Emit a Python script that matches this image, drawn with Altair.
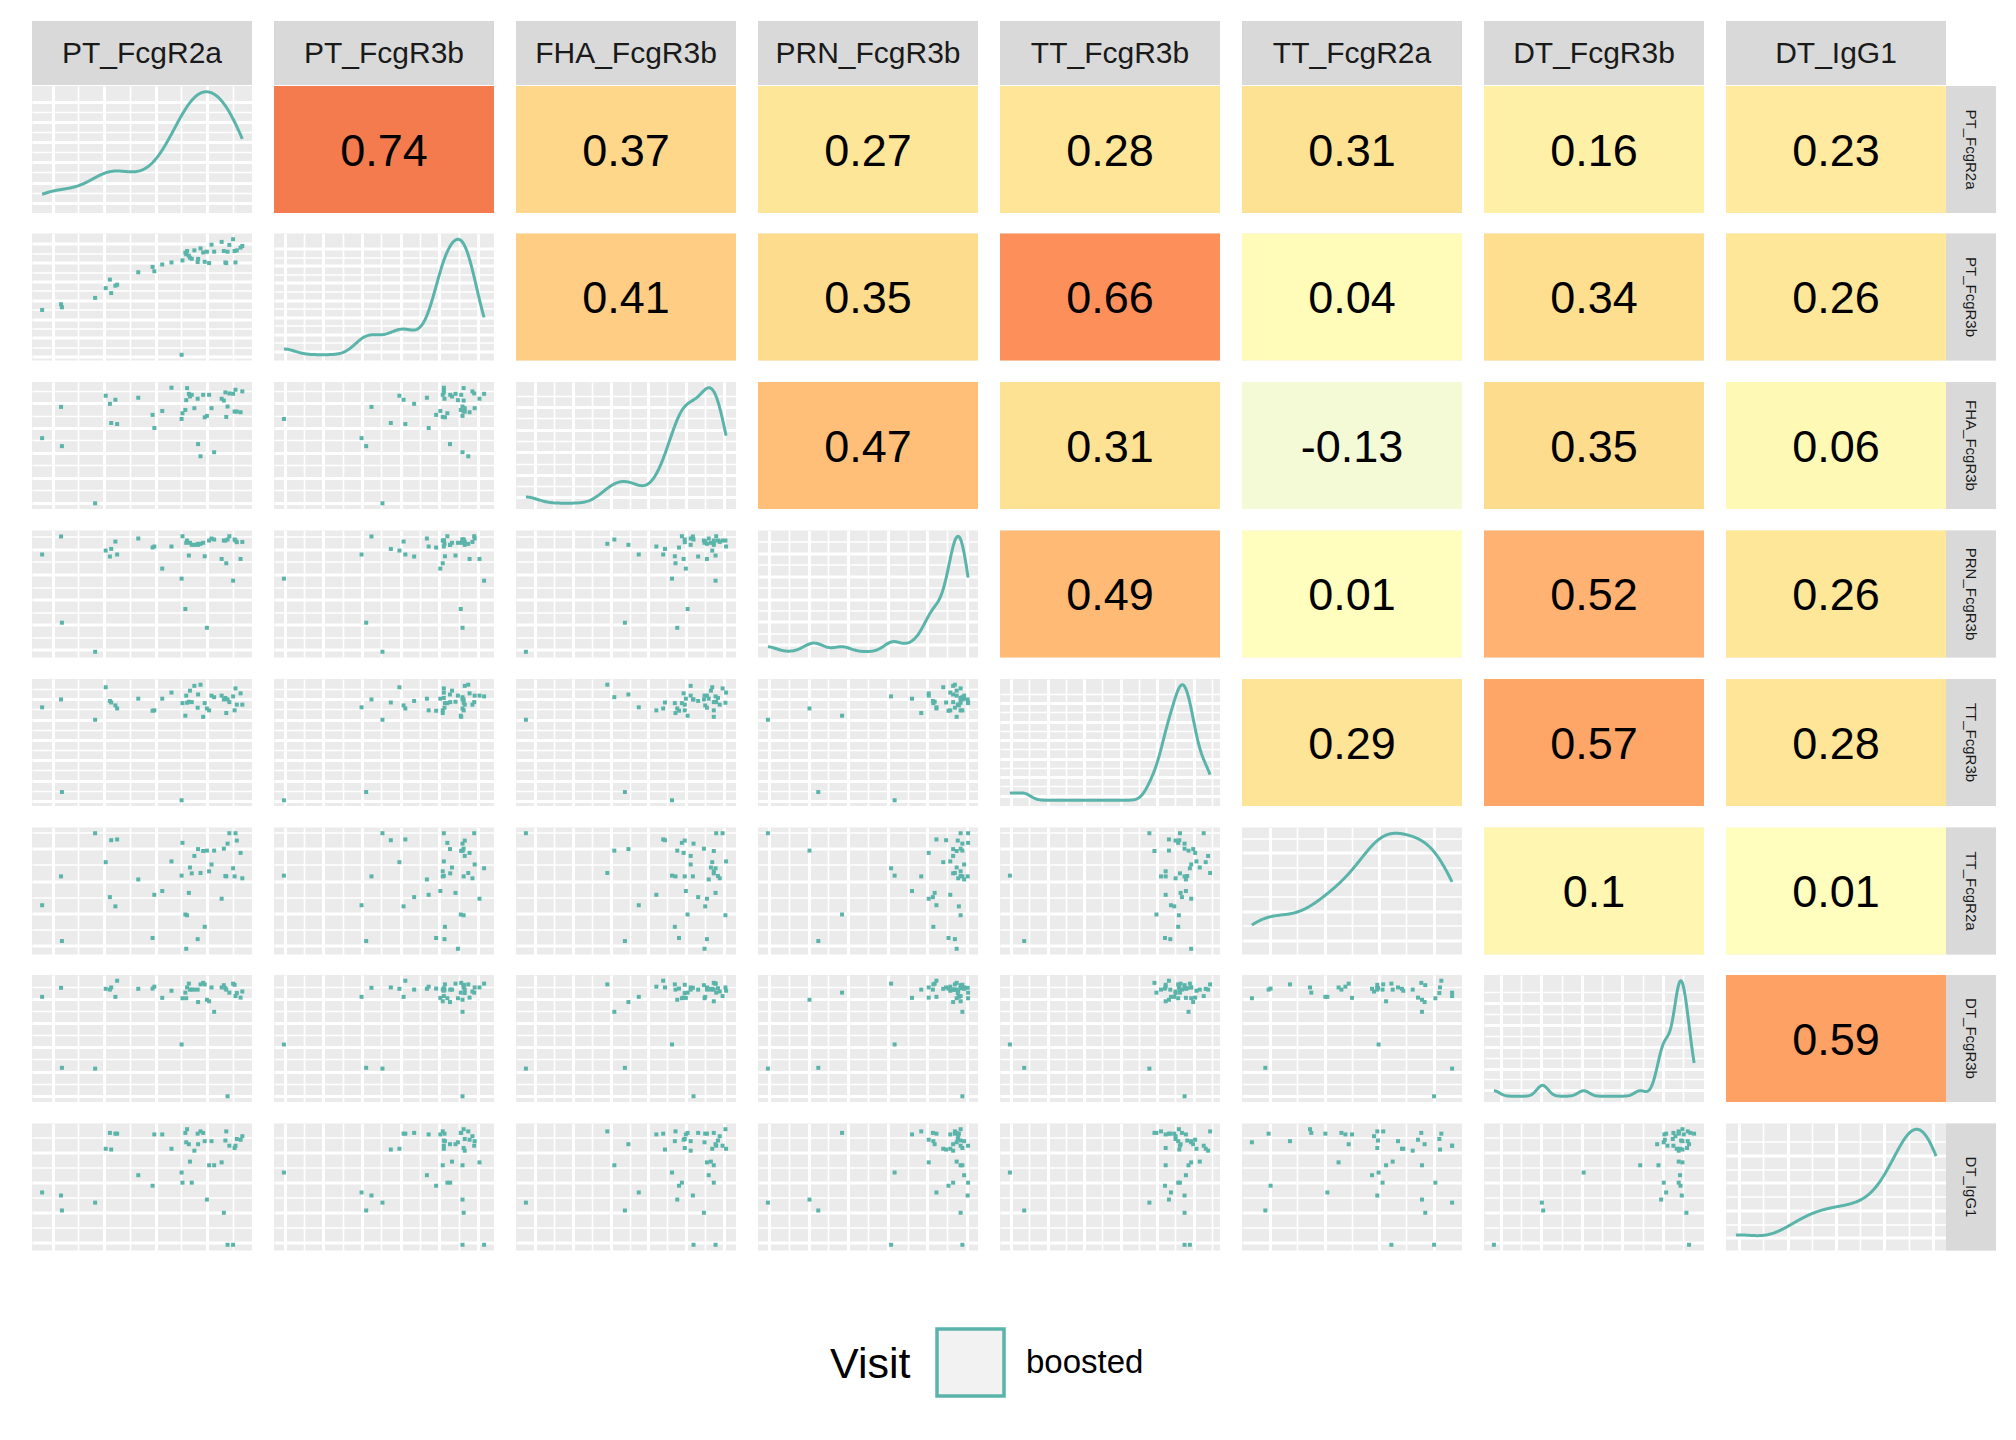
import json
import altair as alt
import numpy as np
import pandas as pd

VARS = ["PT_FcgR2a", "PT_FcgR3b", "FHA_FcgR3b", "PRN_FcgR3b",
        "TT_FcgR3b", "TT_FcgR2a", "DT_FcgR3b", "DT_IgG1"]

# values of each subject (percent of each panel's range)
PT_FcgR2a = [4.6, 13.2, 13.6, 28.7, 33.5, 35.4, 36.0, 37.9, 38.7, 48.3,
             54.8, 55.6, 59.2, 63.4, 68.0, 68.4, 69.7, 70.1, 70.5, 71.3,
             71.8, 72.6, 73.8, 75.3, 75.5, 76.6, 77.8, 78.5, 79.5, 80.5,
             81.6, 82.8, 86.2, 87.2, 87.9, 88.3, 88.9, 89.7, 91.4, 92.1,
             92.5, 93.1, 94.8, 95.6]
PT_FcgR3b = [39.8, 44.3, 41.9, 49.3, 57.0, 63.7, 53.1, 58.9, 59.7, 69.5,
             73.7, 70.3, 75.6, 77.2, 4.5, 78.8, 84.9, 83.6, 86.2, 82.5,
             80.9, 80.1, 86.7, 77.5, 80.0, 88.3, 85.1, 77.7, 85.7, 76.7,
             91.2, 85.7, 93.4, 86.2, 77.2, 76.7, 85.7, 91.0, 95.5, 86.2,
             77.2, 86.7, 88.9, 90.2]
FHA_FcgR3b = [55.8, 80.4, 49.5, 4.5, 89.2, 82.8, 67.7, 86.0, 66.9, 87.6,
              74.1, 63.8, 77.2, 95.5, 70.9, 75.4, 78.0, 85.7, 95.2, 90.7,
              88.6, 89.9, 79.4, 86.8, 51.1, 41.5, 89.9, 72.2, 73.3, 89.9,
              79.4, 44.7, 86.8, 85.4, 91.8, 72.5, 80.7, 91.0, 90.7, 76.7,
              93.9, 76.7, 76.2, 92.6]
PRN_FcgR3b = [81.1, 95.3, 27.4, 4.5, 84.2, 79.5, 85.5, 91.3, 81.1, 93.7,
              86.6, 87.4, 70.0, 87.4, 62.1, 95.5, 38.2, 90.3, 92.1, 80.3,
              90.3, 88.7, 88.7, 89.5, 88.7, 89.5, 90.3, 79.7, 23.4, 92.1,
              93.7, 92.9, 77.6, 92.1, 92.1, 74.2, 92.9, 95.5, 60.5, 92.9,
              92.1, 90.8, 77.6, 91.0]
TT_FcgR3b = [77.7, 83.9, 11.0, 67.9, 93.5, 82.7, 81.5, 79.2, 76.8, 84.5,
             75.0, 75.3, 84.5, 89.3, 4.5, 81.0, 71.1, 86.9, 81.3, 82.1,
             90.8, 81.8, 94.6, 77.4, 87.8, 95.5, 70.2, 81.0, 76.8, 75.3,
             86.9, 85.7, 86.9, 83.9, 85.1, 73.2, 83.9, 81.8, 86.3, 75.3,
             92.6, 79.8, 88.7, 79.8]
TT_FcgR2a = [38.8, 61.5, 10.6, 95.5, 72.7, 45.2, 90.0, 37.9, 90.6, 59.1,
             13.0, 47.0, 50.0, 73.3, 62.1, 87.9, 31.5, 4.5, 30.9, 48.5,
             68.5, 63.9, 77.6, 12.1, 83.0, 64.2, 81.5, 21.8, 81.8, 65.5,
             70.9, 81.8, 43.9, 83.3, 61.8, 61.5, 87.3, 95.5, 67.9, 61.5,
             95.5, 89.7, 80.0, 60.0]
DT_FcgR3b = [82.8, 89.9, 26.9, 26.3, 89.1, 88.5, 90.2, 82.8, 95.5, 89.1,
             89.3, 90.8, 82.0, 87.6, 45.3, 81.7, 86.1, 81.7, 90.2, 93.2,
             88.5, 88.5, 88.5, 88.5, 78.7, 92.6, 93.8, 92.6, 80.5, 79.3,
             90.2, 71.0, 90.2, 92.0, 89.6, 88.5, 4.5, 86.1, 93.2, 92.3,
             83.4, 85.8, 82.2, 87.0]
DT_IgG1 = [45.7, 43.3, 31.5, 37.7, 80.1, 92.6, 79.5, 92.0, 92.0, 59.3,
           51.0, 91.4, 91.4, 80.1, 61.4, 53.4, 92.6, 85.2, 95.5, 83.7,
           70.0, 53.4, 78.6, 92.0, 83.7, 93.8, 92.6, 86.1, 40.1, 67.1,
           86.1, 67.1, 69.4, 29.7, 86.6, 93.8, 4.5, 82.5, 4.5, 80.7,
           82.5, 87.8, 87.2, 90.0]

# correlations shown in the upper triangle, row by row
CORR_ROWS = [
    [0.74, 0.37, 0.27, 0.28, 0.31, 0.16, 0.23],
    [0.41, 0.35, 0.66, 0.04, 0.34, 0.26],
    [0.47, 0.31, -0.13, 0.35, 0.06],
    [0.49, 0.01, 0.52, 0.26],
    [0.29, 0.57, 0.28],
    [0.1, 0.01],
    [0.59],
]

# grid line spacing (percent of panel) per variable
X_STEP = [11.7, 8.8, 8.6, 9.0, 8.3, 12.4, 9.2, 11.0]
X_OFF = [9.4, 4.8, 8.6, 5.0, 5.0, 12.7, 7.7, 6.0]
Y_STEP = [8.7, 7.4, 9.8, 9.9, 8.0, 12.7, 9.5, 11.9]
Y_OFF = [4.0, 3.0, 5.0, 6.0, 4.0, 7.0, 5.0, 6.0]

TEAL = "#5BB4AA"
FONT = "Liberation Sans"
W, H = 220, 127
STRIP_H, STRIP_W = 64, 50
ROW_GAP = 19.5

cols = [PT_FcgR2a, PT_FcgR3b, FHA_FcgR3b, PRN_FcgR3b, TT_FcgR3b, TT_FcgR2a, DT_FcgR3b, DT_IgG1]
df = pd.DataFrame({name: vals for name, vals in zip(VARS, cols)})
df["Visit"] = "boosted"


def bw_nrd0(x):
    x = np.asarray(x, dtype=float)
    sd = x.std(ddof=1)
    q75, q25 = np.percentile(x, [75, 25])
    lo = min(sd, (q75 - q25) / 1.34)
    if lo <= 0:
        lo = sd
    return float(0.9 * lo * len(x) ** (-0.2))


BW = [bw_nrd0(c) for c in cols]

SC = alt.Scale(domain=[0, 100], nice=False, zero=False)
CSCALE = alt.Scale(domain=[-1, -2 / 3, -1 / 3, 0, 1 / 3, 2 / 3, 1],
                   range=["#4575B4", "#91BFDB", "#E0F3F8", "#FFFFBF",
                          "#FEE090", "#FC8D59", "#D73027"],
                   interpolate="lab")

LEG = alt.Legend(title="Visit", orient="none", legendX=798, legendY=1306,
                 titleOrient="left", titleFontSize=43, titleFont=FONT,
                 titleFontWeight="normal", titleColor="black", titlePadding=24,
                 titleAnchor="middle", titleBaseline="middle",
                 labelFontSize=33, labelFont=FONT, labelColor="black", labelOffset=20,
                 symbolType="square", symbolSize=4489, symbolStrokeWidth=3.5,
                 symbolFillColor="#F2F2F2", symbolStrokeColor=TEAL)


def grid_axis(step, off):
    vals = []
    k = 0
    while off + k * step < 99:
        vals.append(round(off + k * step, 2))
        k += 1
    major = [v for i, v in enumerate(vals) if i % 2 == 0]
    test = "indexof(" + json.dumps(major) + ", datum.value) >= 0"
    return alt.Axis(values=vals, labels=False, ticks=False, domain=False, title=None,
                    grid=True, gridColor="white", gridOpacity=1,
                    gridWidth={"condition": {"test": test, "value": 3}, "value": 1.6})


def scatter(i, j):
    return alt.Chart(df).mark_square(size=16, color=TEAL, opacity=1).encode(
        x=alt.X(f"{VARS[j]}:Q", scale=SC, axis=grid_axis(X_STEP[j], X_OFF[j])),
        y=alt.Y(f"{VARS[i]}:Q", scale=SC, axis=grid_axis(Y_STEP[i], Y_OFF[i])),
    ).properties(width=W, height=H)


def diag(i):
    return alt.Chart(df).transform_density(
        VARS[i], as_=["v", "density"], groupby=["Visit"], bandwidth=BW[i], steps=256
    ).transform_joinaggregate(
        maxd="max(density)", groupby=["Visit"]
    ).transform_calculate(
        dn="datum.density / datum.maxd * 100"
    ).mark_line(strokeWidth=3).encode(
        x=alt.X("v:Q", scale=SC, axis=grid_axis(X_STEP[i], X_OFF[i])),
        y=alt.Y("dn:Q", scale=alt.Scale(domain=[-5, 105], nice=False, zero=False),
                axis=grid_axis(Y_STEP[i], Y_OFF[i])),
        stroke=alt.Stroke("Visit:N", scale=alt.Scale(domain=["boosted"], range=[TEAL]), legend=LEG),
    ).properties(width=W, height=H)


def tile(r):
    base = alt.Chart(pd.DataFrame({"r": [r], "label": [str(r)]}))
    rect = base.mark_rect().encode(
        x=alt.value(0), x2=alt.value(W), y=alt.value(0), y2=alt.value(H),
        color=alt.Color("r:Q", scale=CSCALE, legend=None),
    )
    txt = base.mark_text(font=FONT, fontSize=45, color="black").encode(
        x=alt.value(W / 2), y=alt.value(H / 2 + 2), text="label:N"
    )
    return alt.layer(rect, txt).properties(width=W, height=H)


def strip_top(name):
    base = alt.Chart(pd.DataFrame({"label": [name]}))
    rect = base.mark_rect(color="#D9D9D9").encode(
        x=alt.value(0), x2=alt.value(W), y=alt.value(0), y2=alt.value(STRIP_H))
    txt = base.mark_text(font=FONT, fontSize=30, color="#1A1A1A").encode(
        x=alt.value(W / 2), y=alt.value(STRIP_H / 2 + 1), text="label:N")
    return alt.layer(rect, txt).properties(width=W, height=STRIP_H)


def strip_right(name):
    base = alt.Chart(pd.DataFrame({"label": [name]}))
    rect = base.mark_rect(color="#D9D9D9").encode(
        x=alt.value(0), x2=alt.value(STRIP_W), y=alt.value(0), y2=alt.value(H))
    txt = base.mark_text(font=FONT, fontSize=15, color="#1A1A1A", angle=90).encode(
        x=alt.value(STRIP_W / 2), y=alt.value(H / 2), text="label:N")
    return alt.layer(rect, txt).properties(width=STRIP_W, height=H)


rows = []
for i in range(8):
    panels = []
    for j in range(8):
        if i == j:
            panels.append(diag(i))
        elif j > i:
            panels.append(tile(CORR_ROWS[i][j - i - 1]))
        else:
            panels.append(scatter(i, j))
    row = alt.hconcat(
        alt.hconcat(*panels[:7], spacing=22),
        alt.hconcat(panels[7], strip_right(VARS[i]), spacing=0),
        spacing=22,
    )
    rows.append(row)

top = alt.hconcat(*[strip_top(v) for v in VARS], spacing=22)
grid = alt.vconcat(*rows, spacing=ROW_GAP)

chart = alt.vconcat(top, grid, spacing=0).properties(
    padding={"left": 24, "top": 13, "right": 10, "bottom": 30},
    background="white",
).configure_view(
    fill="#EBEBEB", stroke="transparent", strokeWidth=0
)

chart.save("out.html", embed_options={"renderer": "svg", "actions": False})
